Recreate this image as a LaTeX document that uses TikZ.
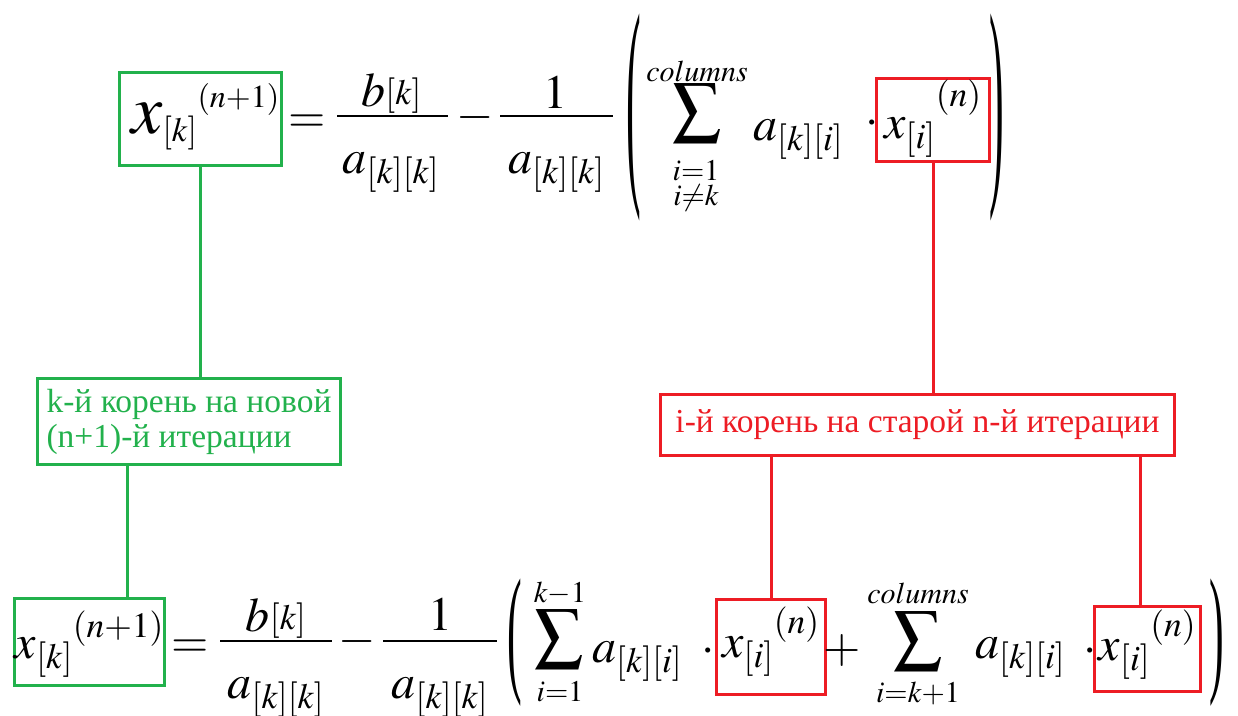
\documentclass[tikz,border=0pt]{standalone}
\usepackage{mathptmx}
\usepackage{fontspec}
\setmainfont{Liberation Serif}
\definecolor{boxgreen}{RGB}{34,177,76}
\definecolor{boxred}{RGB}{237,28,36}
\newcommand{\tallparen}[2]{\scalebox{1}[#1]{\fontsize{44}{44}\selectfont#2}}
\newcommand{\upsub}[1]{\raisebox{2pt}{$\scriptstyle#1$}}
\begin{document}
\begin{tikzpicture}[x=1pt,y=-1pt]
  \tikzset{piece/.style={inner sep=0pt,font=\fontsize{48}{52}\selectfont},
    limit/.style={inner sep=0pt,align=center,font=\fontsize{30}{25}\selectfont},
    bar/.style={line width=2.2pt},
    rootbox/.style={draw,line width=3pt,inner sep=0pt,font=\fontsize{48}{52}\selectfont},
    note/.style={draw,line width=3pt,inner xsep=9pt,font=\fontsize{33.5}{35}\selectfont}}
  \useasboundingbox (0,0) rectangle (1238,715);
  % upper formula
  \node[rootbox,draw=boxgreen,minimum width=162pt,text height=60.5pt,text depth=32.5pt] (xnew) at (200.5,119)
    {$\kern10pt\mbox{\fontsize{70}{70}\selectfont$x$}_{\mbox{\fontsize{34}{34}\selectfont$[k]$}}{}^{\raisebox{8pt}{\fontsize{32}{32}\selectfont$(n{+}1)$}}$};
  \node[piece,anchor=base] (eqtop) at (307,132) {$=$};
  \node[piece,anchor=base] (bnumtop) at (391.5,106) {$b\upsub{[k]}$};
  \node[piece,anchor=base] (bdentop) at (391,173) {$a_{[k][k]}$};
  \draw[bar] (337,116) -- (448,116);
  \node[piece,anchor=base] (minustop) at (475,129) {$-$};
  \node[piece,anchor=base] (onenumtop) at (555.5,108) {$1$};
  \node[piece,anchor=base] (onedentop) at (556.5,173) {$a_{[k][k]}$};
  \draw[bar] (500,116) -- (613,116);
  \node[piece] (lpartop) at (634,117) {\tallparen{5.2}{(}};
  \node[piece] (sumtop) at (697,113) {$\displaystyle\sum$};
  \node[limit] (uptop) at (697,71) {$columns$};
  \node[limit] (lowtop) at (696,186) {$i{=}1$\\$i{\ne}k$};
  \node[piece,anchor=base west] (asumtop) at (753,140) {$a_{[k][i]}$};
  \node[piece,anchor=base] (dottop) at (872,134) {$\cdot$};
  \node[rootbox,draw=boxred,minimum width=113pt,text height=59.5pt,text depth=23.5pt] (xiold) at (933,120)
    {$x_{[i]}{}^{\raisebox{14pt}{$\scriptstyle(n)$}}$};
  \node[piece] (rpartop) at (997,117) {\tallparen{5.2}{)}};
  % lower formula
  \node[rootbox,draw=boxgreen,minimum width=150pt,text height=59.5pt,text depth=27.5pt] (xold) at (89.5,642)
    {$x_{[k]}{}^{\raisebox{3pt}{$\scriptstyle(n+1)$}}$};
  \node[piece,anchor=base] (eqbot) at (190,657) {$=$};
  \node[piece,anchor=base] (bnumbot) at (276,631) {$b\upsub{[k]}$};
  \node[piece,anchor=base] (bdenbot) at (276,698) {$a_{[k][k]}$};
  \draw[bar] (220,641) -- (332,641);
  \node[piece,anchor=base] (minusbot) at (357,653) {$-$};
  \node[piece,anchor=base] (onenumbot) at (440,630) {$1$};
  \node[piece,anchor=base] (onedenbot) at (440,698) {$a_{[k][k]}$};
  \draw[bar] (383,641) -- (497,641);
  \node[piece] (lparbot) at (515,643) {\tallparen{3.2}{(}};
  \node[piece] (sumlo) at (559,639) {$\displaystyle\sum$};
  \node[limit] (uplo) at (560,593) {$k{-}1$};
  \node[limit] (lowlo) at (560,692) {$i{=}1$};
  \node[piece,anchor=base west] (alo) at (592,662) {$a_{[k][i]}$};
  \node[piece,anchor=base] (dotlo) at (708,662) {$\cdot$};
  \node[rootbox,draw=boxred,minimum width=109pt,text height=57.5pt,text depth=37.5pt] (xa) at (771,647)
    {$x_{[i]}{}^{\raisebox{6pt}{$\scriptstyle(n)$}}$};
  \node[piece,anchor=base] (plusbot) at (842,662) {$+$};
  \node[piece] (sumhi) at (918,641) {$\displaystyle\sum$};
  \node[limit] (uphi) at (918,593) {$columns$};
  \node[limit] (lowhi) at (918,693) {$i{=}k{+}1$};
  \node[piece,anchor=base west] (ahi) at (975,658) {$a_{[k][i]}$};
  \node[piece,anchor=base] (dothi) at (1090,662) {$\cdot$};
  \node[rootbox,draw=boxred,minimum width=106pt,text height=53.5pt,text depth=31.5pt] (xb) at (1147.5,649)
    {$x_{[i]}{}^{\raisebox{6pt}{$\scriptstyle(n)$}}$};
  \node[piece] (rparbot) at (1217,643) {\tallparen{3.2}{)}};
  % notes
  \node[note,draw=boxgreen,text=boxgreen,align=left,minimum height=86pt] (kroot) at (189,421.5) {k-й корень на новой\\(n+1)-й итерации};
  \node[note,draw=boxred,text=boxred,minimum width=514pt,minimum height=61pt] (iroot) at (917.5,425) {i-й корень на старой n-й итерации};
  \coordinate (kfoot) at ([xshift=-62pt]kroot.south);
  \coordinate (xbtop) at ([xshift=-7pt]xb.north);
  \draw[boxgreen,line width=3pt] (xnew.south) -- (xnew.south |- kroot.north);
  \draw[boxgreen,line width=3pt] (kfoot) -- (kfoot |- xold.north);
  \draw[boxred,line width=3pt] (xiold.south) -- (xiold.south |- iroot.north);
  \draw[boxred,line width=3pt] (xa.north) -- (xa.north |- iroot.south);
  \draw[boxred,line width=3pt] (xbtop) -- (xbtop |- iroot.south);
\end{tikzpicture}
\end{document}
